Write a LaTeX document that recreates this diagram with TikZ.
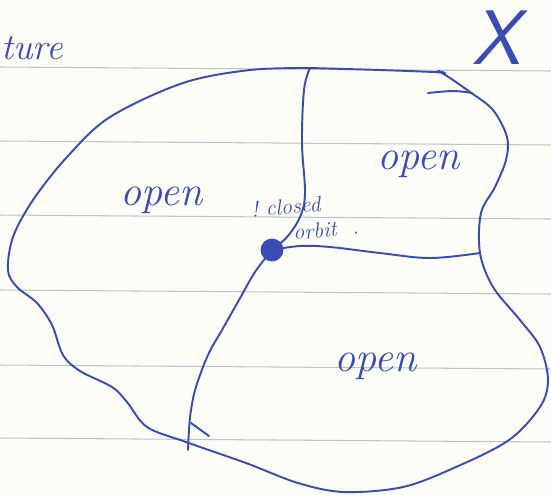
\documentclass[tikz,border=0pt]{standalone}
\usepackage{tikz}
\usetikzlibrary{positioning}
\definecolor{ink}{HTML}{3A4CB4}
\definecolor{paper}{HTML}{FDFDF7}
\definecolor{ruling}{HTML}{B8C8CC}

\begin{document}
\begin{tikzpicture}[x=0.02cm,y=-0.02cm,
  pen/.style={draw=ink,line width=1.1pt,line cap=round,line join=round},
  hand/.style={text=ink,inner sep=0pt,font=\itshape\fontsize{24}{28}\selectfont},
  small/.style={text=ink,inner sep=0pt,font=\itshape\fontsize{12.5}{13}\selectfont},
  rl/.style={draw=ruling,line width=0.6pt}]
  \fill[paper] (0,0) rectangle (551,495);
  \useasboundingbox (0,0) rectangle (551,495);
  % ruled paper
  \foreach \y in {67,141,215,290,365,438}
    \draw[rl] (0,\y) -- (551,\y+4);
  % labels
  \node[hand,anchor=west,font=\itshape\fontsize{21}{24}\selectfont] (ture) at (1,48) {ture};
  \node[text=ink,font=\sffamily\itshape\fontsize{44}{48}\selectfont] (xlbl) at (497,38) {X};
  \node[hand] (open1) at (162,200) {open};
  \node[hand] (open2) at (419,164) {open};
  \node[hand] (open3) at (376,366) {open};
  % the one closed orbit
  \node[circle,fill=ink,inner sep=0pt,minimum size=13pt] (orb) at (272,250) {};
  \node[small,rotate=5,align=left] (cl) at (305,218)
    {!\ closed\\[2pt]\hspace*{1.8em}orbit\ \ .};
  \coordinate (top) at (310,68);
  \coordinate (rgt) at (480,253);
  \coordinate (bot) at (188,450);
  % outline of X
  \draw[pen] plot[smooth,tension=0.55] coordinates {(top) (250,70) (183,83) (110,117) (67,157)
    (33,200) (13,237) (8,270) (17,287) (37,303) (52,325) (63,355) (80,371) (112,387)
    (127,402) (147,427) (186,442) (246,463) (298,483) (344,492) (403,487) (456,467)
    (509,440) (540,407) (548,380) (540,347) (520,320) (493,287) (rgt) (481,213)
    (495,187) (506,160) (507,137) (493,110) (470,92) (447,76) (438,71) (445,73) (433,72)
    (380,70) (top)};
  \draw[pen] plot[smooth,tension=0.6] coordinates {(428,93) (453,91) (472,93)};
  % separatrices through the orbit
  \draw[pen] plot[smooth,tension=0.6] coordinates {(top) (304,90) (302,143) (305,193)
    (300,217) (287,237) (orb.center)};
  \draw[pen] plot[smooth,tension=0.6] coordinates {(orb.center) (300,246) (330,247)
    (380,253) (430,258) (rgt)};
  \draw[pen] plot[smooth,tension=0.6] coordinates {(orb.center) (255,272) (239,300)
    (222,330) (208,355) (196,387) (191,410) (189,430) (bot)};
  \draw[pen] (191,423) -- (209,436);
\end{tikzpicture}
\end{document}
